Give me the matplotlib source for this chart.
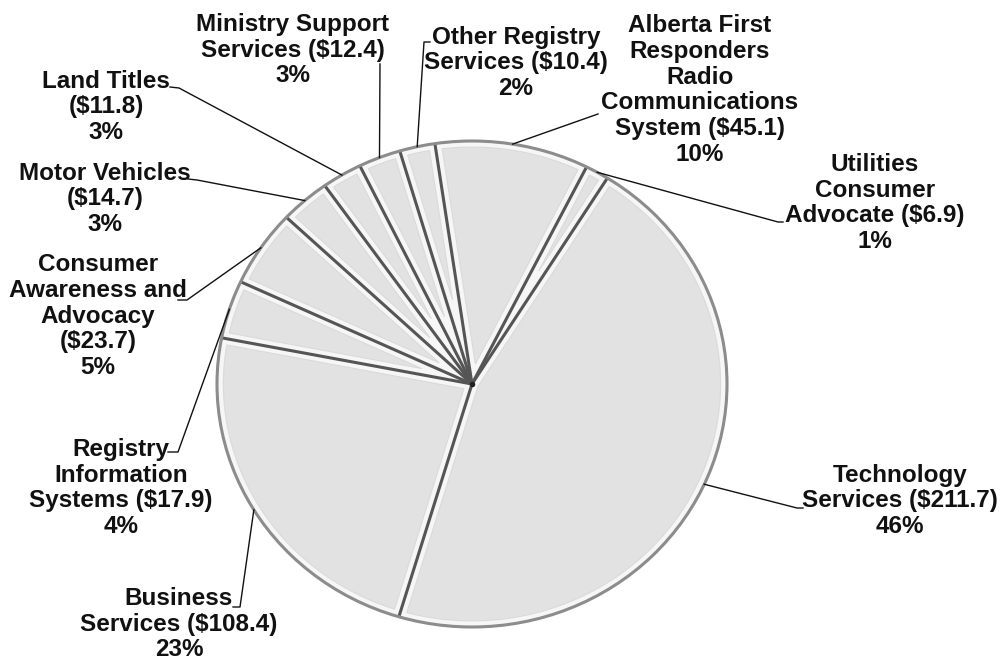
import numpy as np
import matplotlib
matplotlib.use("Agg")
import matplotlib.pyplot as plt
from matplotlib.patches import Polygon, Ellipse

# Ministry expense by program ($ millions), in pie order (clockwise)
names = [
    "Utilities\nConsumer\nAdvocate",
    "Technology\nServices",
    "Business\nServices",
    "Registry\nInformation\nSystems",
    "Consumer\nAwareness and\nAdvocacy",
    "Motor Vehicles",
    "Land Titles",
    "Ministry Support\nServices",
    "Other Registry\nServices",
    "Alberta First\nResponders\nRadio\nCommunications\nSystem",
]
values = [6.9, 211.7, 108.4, 17.9, 23.7, 14.7, 11.8, 12.4, 10.4, 45.1]
# whether the amount sits on its own line under the name
amount_newline = [False, False, False, False, True, True, True, False, False, False]

W, H = 1002, 660
CX, CY, RX, RY = 472, 384, 255, 243


def to_data(px, py):
    return (px - CX) / RX, (CY - py) / RY


# label block centres and leader start points, in pixels
label_pos = [(875, 203), (900, 501), (179, 624), (121, 488), (98, 316),
             (105, 199), (106, 107), (293, 50), (516, 63), (700, 90)]
leader_pts = [
    [(783, 222), (778, 222)],
    [(803, 508), (797, 508)],
    [(233, 607), (240, 607)],
    [(168, 452), (178, 452)],
    [(178, 300), (187, 300)],
    [(188, 179), (197, 180)],
    [(170, 87), (179, 88)],
    [(380, 64)],
    [(430, 42), (424, 42)],
    [(598, 114)],
]

fig = plt.figure(figsize=(W / 100, H / 100), dpi=100)
ax = fig.add_axes([0, 0, 1, 1])

wedges, _ = ax.pie(values, radius=1.0, startangle=63.3, counterclock=False,
                   colors=["#f6f6f6"] * len(values),
                   wedgeprops=dict(edgecolor="none", linewidth=0))
ax.set_aspect("auto")
ax.set_xlim(to_data(0, 0)[0], to_data(W, 0)[0])
ax.set_ylim(to_data(0, H)[1], to_data(0, 0)[1])
ax.axis("off")

# inset face of each wedge for the bevelled look
d = 0.025
R = 1.0
for w in wedges:
    t1, t2 = np.radians(w.theta1), np.radians(w.theta2)
    half = (t2 - t1) / 2
    tm = (t1 + t2) / 2
    off = d / np.sin(half) if half < np.pi / 2 else d
    if off > R - d - 0.02:
        continue
    A = off * np.array([np.cos(tm), np.sin(tm)])
    ends = []
    for t in (t1, t2):
        u = np.array([np.cos(t), np.sin(t)])
        b = A @ u
        c = A @ A - (R - d) ** 2
        s = -b + np.sqrt(b * b - c)
        p = A + s * u
        ends.append(np.arctan2(p[1], p[0]))
    a1, a2 = ends
    while a2 < a1:
        a2 += 2 * np.pi
    arc = np.linspace(a1, a2, 80)
    pts = [A] + [np.array([(R - d) * np.cos(a), (R - d) * np.sin(a)]) for a in arc]
    ax.add_patch(Polygon(pts, closed=True, facecolor="#e2e2e2", edgecolor="#dadada",
                         linewidth=0.8, zorder=2))

# radial dividers
for w in wedges:
    t = np.radians(w.theta1)
    ax.plot([0, np.cos(t)], [0, np.sin(t)], color="#555555", lw=2.2,
            solid_capstyle="butt", zorder=3)

# outer rim
ax.add_patch(Ellipse((0, 0), 2.0, 2.0, facecolor="none", edgecolor="#8c8c8c",
                     lw=2.2, zorder=4))
ax.plot([0], [0], marker="o", ms=3, color="#222222", zorder=5)

total = sum(values)
for i, w in enumerate(wedges):
    pct = round(values[i] / total * 100)
    sep = "\n" if amount_newline[i] else " "
    text = f"{names[i]}{sep}(${values[i]:.1f})\n{pct}%"
    x, y = to_data(*label_pos[i])
    ax.text(x, y, text, ha="center", va="center", fontsize=17.5,
            fontweight="bold", family=["Liberation Sans", "DejaVu Sans"],
            linespacing=1.15, color="#111111", zorder=6)

    tm = np.radians((w.theta1 + w.theta2) / 2)
    xs = [to_data(*p)[0] for p in leader_pts[i]] + [np.cos(tm)]
    ys = [to_data(*p)[1] for p in leader_pts[i]] + [np.sin(tm)]
    ax.plot(xs, ys, color="#111111", lw=1.0, zorder=5)

fig.savefig("out.png", dpi=100)
